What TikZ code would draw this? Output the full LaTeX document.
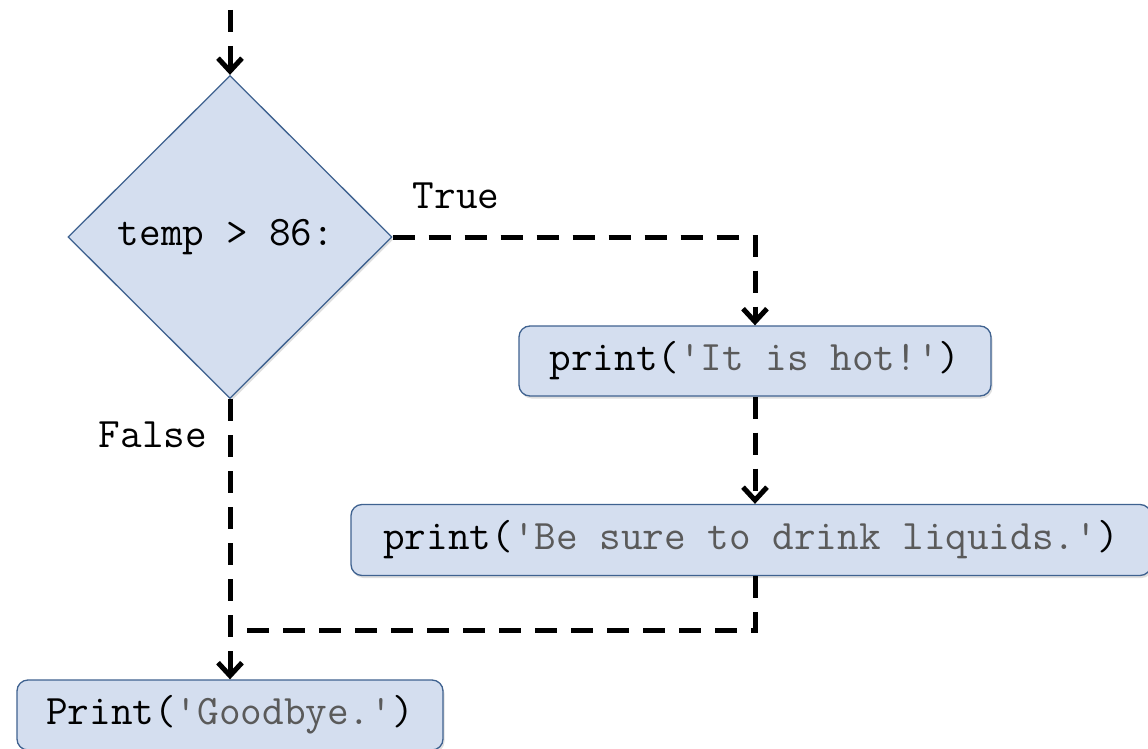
\documentclass[tikz,border=0pt]{standalone}
\usepackage{fontspec}
\usetikzlibrary{arrows.meta,shapes.geometric,shadows}
\definecolor{boxfill}{HTML}{D4DEEF}
\definecolor{boxline}{HTML}{3F6290}
\definecolor{strgray}{HTML}{5A5A5A}
% string literal: straight single quotes, grey text
\newcommand{\pystr}[1]{\textcolor{strgray}{\char39 #1\char39}}
\tikzset{
  codebox/.style={draw=boxline, fill=boxfill, line width=1.3pt, rounded corners=11pt,
    anchor=center, inner sep=0pt,
    drop shadow={opacity=0.25, shadow xshift=1.5pt, shadow yshift=-2.5pt}},
  decision/.style={draw=boxline, fill=boxfill, line width=1.3pt, diamond, inner sep=0pt,
    drop shadow={opacity=0.25, shadow xshift=1.5pt, shadow yshift=-2.5pt}},
  flow/.style={line width=5pt, dash pattern=on 22pt off 14pt, black},
  flowarrow/.style={flow, -{Straight Barb[length=13pt, width=24pt, line width=5pt]}},
  lbl/.style={inner sep=0pt}
}
\begin{document}
\begin{tikzpicture}[x=1pt, y=-1pt, font=\ttfamily\fontsize{42}{48}\selectfont]
\useasboundingbox[fill=white] (0,0) rectangle (1148,749);

% decision node
\node[decision, minimum width=324pt, minimum height=323pt] (cond) at (230,237) {};
\node[inner sep=0pt] (condtext) at (226,237) {temp > 86:};

% statement boxes
\node[codebox, minimum width=472pt, minimum height=70pt] (hot) at (755,361)
  {print(\pystr{It is hot!})};
\node[codebox, minimum width=800pt, minimum height=71pt] (drink) at (751,540)
  {print(\pystr{Be sure to drink liquids.})};
\node[codebox, minimum width=426pt, minimum height=70pt] (bye) at (230,715)
  {Print(\pystr{Goodbye.})};

% branch labels
\node[lbl] (ltrue) at (456,196) {True};
\node[lbl] (lfalse) at (153,435) {False};

% connectors
\coordinate (entry) at (230,10);
\coordinate (tcorner) at (755,237);
\coordinate (jright) at (755,630);
\coordinate (jleft) at (230,630);

\draw[flowarrow] (entry) -- (cond.north);
\draw[flowarrow] (cond.east) -- (tcorner) -- (hot.north);
\draw[flowarrow] (hot.south) -- (drink.north -| hot.south);
\draw[flow] (drink.south -| jright) -- (jright) -- (jleft);
\draw[flowarrow] (cond.south) -- (bye.north);
\end{tikzpicture}
\end{document}
